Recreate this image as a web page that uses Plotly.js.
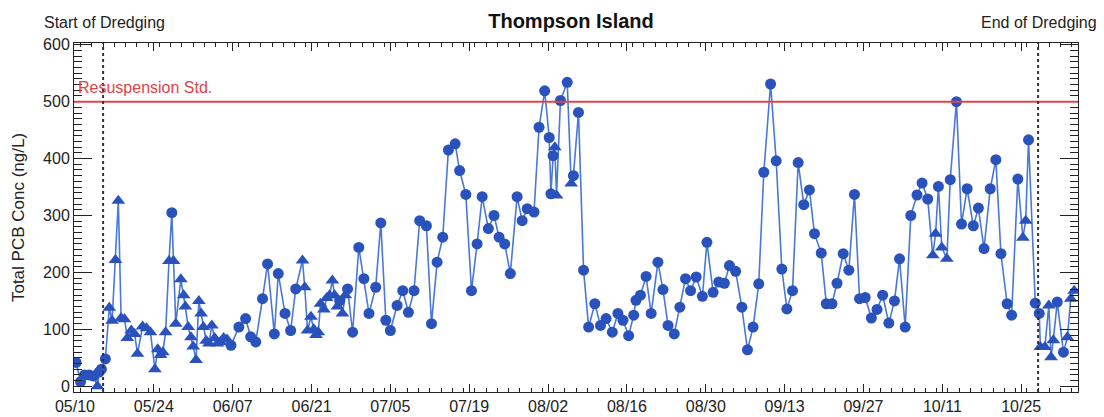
<!DOCTYPE html>
<html>
<head>
<meta charset="utf-8">
<script src="https://cdn.plot.ly/plotly-3.0.1.min.js"></script>
<style>
html,body{margin:0;padding:0;background:#fff;}
#chart{width:1104px;height:417px;}
</style>
</head>
<body>
<div id="chart"></div>
<script>
// ---- data ----
const startDate = [2009, 4, 10];          // 05/10/2009, day 0 of sampleDay
const sampleDay = [
  0.2,1.0,1.7,2.5,3.3,4.0,4.3,4.7,5.4,6.1,6.6,7.2,7.7,8.2,8.8,9.3,10.0,10.6,11.1,12.0,
  12.7,13.4,14.2,14.7,15.2,15.6,16.1,16.7,17.2,17.5,17.9,18.8,19.3,19.6,20.1,20.6,21.0,21.5,22.0,22.4,
  22.8,23.3,23.8,24.3,24.8,25.3,25.8,26.4,27.0,27.7,29.1,30.3,31.2,32.1,33.3,34.2,35.4,36.1,37.3,38.3,
  39.2,40.4,40.8,41.3,41.9,42.4,42.8,43.2,43.6,44.2,44.7,45.2,45.7,46.1,46.6,47.0,47.5,48.0,48.4,49.3,
  50.4,51.3,52.2,53.4,54.3,55.2,56.0,57.2,58.2,59.2,60.2,61.2,62.4,63.3,64.3,65.3,66.3,67.5,68.3,69.4,
  70.4,71.4,72.3,73.4,74.4,75.3,76.3,77.3,78.5,79.4,80.3,81.5,82.4,83.4,84.2,84.5,84.9,85.2,85.5,86.2,
  87.4,88.1,88.5,89.4,90.3,91.2,92.3,93.3,94.3,95.4,96.4,97.3,98.3,99.2,99.6,100.4,101.4,102.3,103.5,104.4,
  105.3,106.4,107.4,108.4,109.3,110.3,111.4,112.2,113.3,114.3,115.3,116.2,117.3,118.4,119.4,120.4,121.4,122.3,123.5,124.5,
  125.5,126.4,127.4,128.4,129.4,130.4,131.3,132.5,133.4,134.4,135.3,136.4,137.4,138.4,139.3,140.3,141.4,142.4,143.4,144.5,
  145.5,146.4,147.4,148.4,149.5,150.4,151.4,152.3,152.8,153.3,153.9,154.8,155.4,156.5,157.4,158.4,159.5,160.4,161.4,162.5,
  163.5,164.4,165.5,166.3,167.4,168.3,168.8,169.3,170.5,171.2,171.4,172.2,172.9,173.3,173.7,174.4,175.5,176.2,176.8,177.4
];
const pcbConc = [
  42,8,20,20,18,0,25,30,48,138,115,222,326,120,118,85,98,92,57,105,
  102,95,30,65,55,60,95,220,305,220,110,188,160,140,104,86,70,46,150,128,
  104,80,75,107,85,75,78,85,82,72,104,119,87,78,154,215,92,198,128,98,
  171,221,174,98,122,100,90,95,145,135,155,160,186,160,140,150,128,160,171,95,
  244,189,128,174,287,116,98,142,168,130,168,291,282,110,218,262,415,426,379,337,
  168,250,333,277,300,262,250,198,333,291,312,306,455,519,437,338,405,420,335,502,
  534,356,370,481,204,104,145,107,119,95,128,116,89,125,151,160,193,128,218,170,
  107,92,139,189,168,192,158,253,165,183,181,212,202,139,64,104,180,376,531,396,
  206,136,168,393,319,345,268,234,145,145,181,233,204,337,154,156,120,135,160,111,
  150,224,104,300,336,357,329,230,268,351,244,224,363,500,285,347,282,313,242,347,
  398,233,145,125,364,261,291,433,146,128,69,69,142,51,81,148,60,86,154,168
];
// c = circle sample, t = triangle sample (one row of 20 per data row above)
const markerType = [
  'ccccctccctttttttttt' + 't',
  'ttttttttcttttttttttt',
  'tttttttttccccccccccc',
  'c' + 'tttttttttttttt' + 'c' + 'tt' + 'cc',
  'cccccccccccccccccccc',
  'ccccccccccccccccc' + 'tt' + 'c',
  'ctcccccccccccccccccc',
  'cccccccccccccccccccc',
  'cccccccccccccccccccc',
  'ccccccc' + 'tt' + 'c' + 'tt' + 'cccccccc',
  'ccccc' + 'tt' + 'ccc' + 'ttttt' + 'cc' + 'ttt'
];

const tickFormatX = '%m/%d';
const stdValue = 500;
const dredgeStart = '2009-05-15';
const dredgeEnd = '2009-10-28';
const titleText = 'Thompson Island';
const yTitle = 'Total PCB Conc (ng/L)';

// ---- build ----
function pad(n){return (n<10?'0':'')+n;}
function dayToDate(d){
  const ms = Date.UTC(startDate[0], startDate[1], startDate[2]) + d*86400000;
  const t = new Date(ms);
  return t.getUTCFullYear()+'-'+pad(t.getUTCMonth()+1)+'-'+pad(t.getUTCDate())+' '+pad(t.getUTCHours())+':'+pad(t.getUTCMinutes());
}
const xDates = sampleDay.map(dayToDate);
const n = Math.min(sampleDay.length, pcbConc.length);
const typeFlat = markerType.join('').split('');
const symbols = [], sizes = [];
for (let i=0;i<n;i++){
  const tri = typeFlat[i]==='t';
  symbols.push(tri ? 'triangle-up' : 'circle');
  sizes.push(tri ? 12 : 11);
}

const FONT = 'Liberation Sans, Arial, Helvetica, sans-serif';

const trace = {
  x: xDates.slice(0,n), y: pcbConc.slice(0,n),
  type: 'scatter', mode: 'lines+markers',
  line: {color: '#4a78d6', width: 1.6},
  marker: {color: '#2a52bc', size: sizes, symbol: symbols, opacity: 1, line: {width: 0}},
  hoverinfo: 'x+y'
};

const layout = {
  width: 1104, height: 417,
  margin: {l: 74, r: 26, t: 43, b: 25, pad: 0},
  paper_bgcolor: '#ffffff', plot_bgcolor: '#ffffff',
  showlegend: false,
  font: {family: FONT, size: 16, color: '#222222'},
  title: {text: '<b>' + titleText + '</b>', x: 571/1104, xanchor: 'center', y: 1 - 21/417, yanchor: 'middle',
          font: {family: FONT, size: 20, color: '#111111'}},
  xaxis: {
    type: 'date',
    range: ['2009-05-09 20:00', '2009-11-04 02:00'],
    tick0: '2009-05-10', dtick: 14*86400000, tickformat: tickFormatX,
    ticks: 'inside', ticklen: 8, tickwidth: 1, tickcolor: '#222',
    minor: {dtick: 2*86400000, ticks: 'inside', ticklen: 4, tickcolor: '#222', showgrid: false},
    showline: true, linecolor: '#222', linewidth: 1, mirror: 'ticks',
    showgrid: false, zeroline: false,
    tickfont: {family: FONT, size: 16, color: '#222'}
  },
  yaxis: {
    range: [-10, 603],
    tick0: 0, dtick: 100,
    ticks: 'inside', ticklen: 18, tickwidth: 1, tickcolor: '#222',
    minor: {dtick: 10, ticks: 'inside', ticklen: 8, tickcolor: '#222', showgrid: false},
    showline: true, linecolor: '#222', linewidth: 1, mirror: 'ticks',
    showgrid: false, zeroline: false,
    tickfont: {family: FONT, size: 16, color: '#222'},
    title: {text: yTitle, standoff: 14, font: {family: FONT, size: 17, color: '#222'}}
  },
  shapes: [
    {type: 'line', xref: 'paper', x0: 0, x1: 1, yref: 'y', y0: stdValue, y1: stdValue,
     line: {color: '#e0444a', width: 2}},
    {type: 'line', xref: 'x', x0: dredgeStart, x1: dredgeStart, yref: 'paper', y0: 0, y1: 1,
     line: {color: '#333', width: 2, dash: 'dot'}},
    {type: 'line', xref: 'x', x0: dredgeEnd, x1: dredgeEnd, yref: 'paper', y0: 0, y1: 1,
     line: {color: '#333', width: 2, dash: 'dot'}}
  ],
  annotations: [
    {text: 'Start of Dredging', xref: 'paper', yref: 'paper', x: (42-74)/1004, y: 1 + (43-23)/349,
     xanchor: 'left', yanchor: 'middle', showarrow: false, font: {family: FONT, size: 16, color: '#222'}},
    {text: 'End of Dredging', xref: 'paper', yref: 'paper', x: (1099-74)/1004, y: 1 + (43-23)/349,
     xanchor: 'right', yanchor: 'middle', showarrow: false, font: {family: FONT, size: 16, color: '#222'}},
    {text: 'Resuspension Std.', xref: 'paper', yref: 'y', x: (76-74)/1004, y: stdValue,
     xanchor: 'left', yanchor: 'bottom', yshift: 4, showarrow: false, font: {family: FONT, size: 16, color: '#e0444a'}}
  ]
};

Plotly.newPlot('chart', [trace], layout, {staticPlot: true, displayModeBar: false});
</script>
</body>
</html>
